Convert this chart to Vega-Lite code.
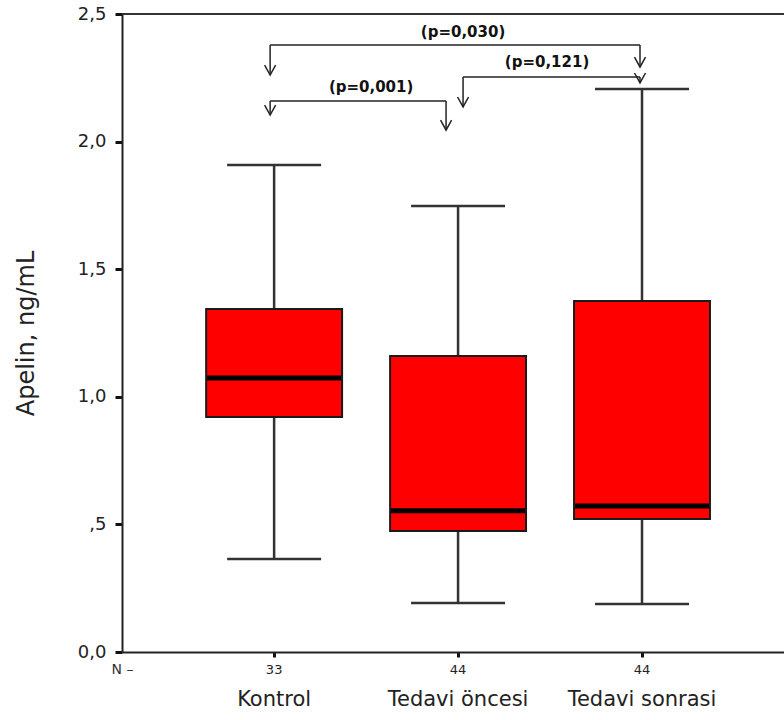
{
  "$schema": "https://vega.github.io/schema/vega-lite/v6.json",
  "width": 662,
  "height": 638,
  "autosize": {"type": "none"},
  "padding": {"left": 122, "top": 14, "right": 0, "bottom": 68},
  "background": "white",
  "config": {
    "view": {"stroke": null},
    "font": "DejaVu Sans",
    "axisY": {
      "labelFontSize": 18, "labelColor": "#222", "labelPadding": 9,
      "tickSize": 7, "tickWidth": 3, "tickColor": "#111", "domainColor": "#222", "domainWidth": 2, "grid": false,
      "titleFontSize": 24, "titleFontWeight": "normal", "titleColor": "#222", "titlePadding": 39
    },
    "axisX": {
      "labelFontSize": 21, "labelColor": "#222", "labelPadding": 31, "labelAngle": 0,
      "tickSize": 5, "tickWidth": 3, "tickColor": "#111", "domainColor": "#222", "domainWidth": 2, "grid": false,
      "titleX": 0, "titleY": 17, "titleAlign": "center", "titleBaseline": "middle",
      "titleFontSize": 14, "titleFontWeight": "normal", "titleColor": "#333"
    }
  },
  "datasets": {
    "groups": [
      {"group": "Kontrol", "n": 33, "lower": 0.364, "q1": 0.921, "median": 1.074, "q3": 1.344, "upper": 1.908},
      {"group": "Tedavi öncesi", "n": 44, "lower": 0.192, "q1": 0.474, "median": 0.553, "q3": 1.160, "upper": 1.748},
      {"group": "Tedavi sonrasi", "n": 44, "lower": 0.188, "q1": 0.521, "median": 0.572, "q3": 1.375, "upper": 2.206}
    ],
    "brackets": [
      {"label": "(p=0,030)", "from": "Kontrol", "to": "Tedavi sonrasi", "top": 2.379, "fromTip": 2.261, "toTip": 2.292, "labelY": 2.429},
      {"label": "(p=0,121)", "from": "Tedavi öncesi", "to": "Tedavi sonrasi", "top": 2.253, "fromTip": 2.136, "toTip": 2.230, "labelY": 2.312},
      {"label": "(p=0,001)", "from": "Kontrol", "to": "Tedavi öncesi", "top": 2.159, "fromTip": 2.104, "toTip": 2.045, "labelY": 2.214}
    ],
    "frame": [{"edge": 2.5}]
  },
  "layer": [
    {
      "data": {"name": "frame"},
      "mark": {"type": "rule", "color": "#333", "strokeWidth": 2},
      "encoding": {
        "y": {
          "field": "edge", "type": "quantitative", "title": "Apelin, ng/mL",
          "scale": {"domain": [0, 2.5], "nice": false, "zero": true},
          "axis": {
            "orient": "left", "title": "Apelin, ng/mL",
            "values": [0, 0.5, 1, 1.5, 2, 2.5],
            "labelExpr": "datum.value == 0 ? '0,0' : datum.value == 0.5 ? ',5' : replace(format(datum.value, '.1f'), '.', ',')"
          }
        }
      }
    },
    {
      "data": {"name": "groups"},
      "mark": {"type": "rule", "color": "#333", "strokeWidth": 2.5},
      "encoding": {
        "x": {
          "field": "group", "type": "nominal", "bandPosition": 0.5, "title": "N –",
          "sort": ["Kontrol", "Tedavi öncesi", "Tedavi sonrasi"],
          "scale": {"type": "band", "domain": ["Kontrol", "Tedavi öncesi", "Tedavi sonrasi"], "paddingInner": 0.261, "paddingOuter": 0.43, "align": 0.532},
          "axis": {"orient": "bottom", "title": "N –"}
        },
        "y": {"field": "lower", "type": "quantitative", "title": "Apelin, ng/mL"},
        "y2": {"field": "upper"}
      }
    },
    {
      "data": {"name": "groups"},
      "mark": {"type": "text", "fontSize": 13, "color": "#222", "baseline": "middle"},
      "encoding": {
        "x": {"field": "group", "type": "nominal", "title": "N –"},
        "y": {"datum": -0.07, "type": "quantitative", "title": "Apelin, ng/mL"},
        "text": {"field": "n"}
      }
    },
    {
      "data": {"name": "groups"},
      "mark": {"type": "tick", "color": "#333", "thickness": 2.5, "size": 94, "opacity": 1},
      "encoding": {
        "x": {"field": "group", "type": "nominal", "title": "N –"},
        "y": {"field": "lower", "type": "quantitative", "title": "Apelin, ng/mL"}
      }
    },
    {
      "data": {"name": "groups"},
      "mark": {"type": "tick", "color": "#333", "thickness": 2.5, "size": 94, "opacity": 1},
      "encoding": {
        "x": {"field": "group", "type": "nominal", "title": "N –"},
        "y": {"field": "upper", "type": "quantitative", "title": "Apelin, ng/mL"}
      }
    },
    {
      "data": {"name": "groups"},
      "mark": {"type": "bar", "fill": "#ff0000", "stroke": "#1a1a1a", "strokeWidth": 2},
      "encoding": {
        "x": {"field": "group", "type": "nominal", "title": "N –"},
        "y": {"field": "q1", "type": "quantitative", "title": "Apelin, ng/mL"},
        "y2": {"field": "q3"}
      }
    },
    {
      "data": {"name": "groups"},
      "mark": {"type": "tick", "color": "#000", "thickness": 5, "size": 134, "opacity": 1},
      "encoding": {
        "x": {"field": "group", "type": "nominal", "title": "N –"},
        "y": {"field": "median", "type": "quantitative", "title": "Apelin, ng/mL"}
      }
    },
    {
      "data": {"name": "brackets"},
      "transform": [{"filter": "datum.label === '(p=0,030)'"}],
      "layer": [
        {
          "mark": {"type": "rule", "color": "#222", "strokeWidth": 1.5, "xOffset": -4, "x2Offset": -2},
          "encoding": {
            "x": {"field": "from", "type": "nominal", "bandPosition": 0.5, "title": "N –"},
            "x2": {"field": "to", "bandPosition": 0.5},
            "y": {"field": "top", "type": "quantitative", "title": "Apelin, ng/mL"}
          }
        },
        {
          "mark": {"type": "rule", "color": "#222", "strokeWidth": 1.5, "xOffset": -4},
          "encoding": {
            "x": {"field": "from", "type": "nominal", "bandPosition": 0.5, "title": "N –"},
            "y": {"field": "top", "type": "quantitative", "title": "Apelin, ng/mL"},
            "y2": {"field": "fromTip"}
          }
        },
        {
          "mark": {"type": "rule", "color": "#222", "strokeWidth": 1.5, "xOffset": -2},
          "encoding": {
            "x": {"field": "to", "type": "nominal", "bandPosition": 0.5, "title": "N –"},
            "y": {"field": "top", "type": "quantitative", "title": "Apelin, ng/mL"},
            "y2": {"field": "toTip"}
          }
        },
        {
          "mark": {"type": "point", "shape": "M-1,-1.8L0,0L1,-1.8", "size": 121, "filled": false, "stroke": "#222", "strokeWidth": 1.5, "opacity": 1, "xOffset": -4},
          "encoding": {
            "x": {"field": "from", "type": "nominal", "title": "N –"},
            "y": {"field": "fromTip", "type": "quantitative", "title": "Apelin, ng/mL"}
          }
        },
        {
          "mark": {"type": "point", "shape": "M-1,-1.8L0,0L1,-1.8", "size": 121, "filled": false, "stroke": "#222", "strokeWidth": 1.5, "opacity": 1, "xOffset": -2},
          "encoding": {
            "x": {"field": "to", "type": "nominal", "title": "N –"},
            "y": {"field": "toTip", "type": "quantitative", "title": "Apelin, ng/mL"}
          }
        },
        {
          "mark": {"type": "text", "font": "DejaVu Sans", "fontWeight": "bold", "fontSize": 15, "dx": 5, "baseline": "middle", "color": "#111"},
          "encoding": {
            "x": {"datum": "Tedavi öncesi", "type": "nominal", "title": "N –"},
            "y": {"field": "labelY", "type": "quantitative", "title": "Apelin, ng/mL"},
            "text": {"field": "label"}
          }
        }
      ]
    },
    {
      "data": {"name": "brackets"},
      "transform": [{"filter": "datum.label === '(p=0,121)'"}],
      "layer": [
        {
          "mark": {"type": "rule", "color": "#222", "strokeWidth": 1.5, "xOffset": 5, "x2Offset": -2},
          "encoding": {
            "x": {"field": "from", "type": "nominal", "bandPosition": 0.5, "title": "N –"},
            "x2": {"field": "to", "bandPosition": 0.5},
            "y": {"field": "top", "type": "quantitative", "title": "Apelin, ng/mL"}
          }
        },
        {
          "mark": {"type": "rule", "color": "#222", "strokeWidth": 1.5, "xOffset": 5},
          "encoding": {
            "x": {"field": "from", "type": "nominal", "bandPosition": 0.5, "title": "N –"},
            "y": {"field": "top", "type": "quantitative", "title": "Apelin, ng/mL"},
            "y2": {"field": "fromTip"}
          }
        },
        {
          "mark": {"type": "rule", "color": "#222", "strokeWidth": 1.5, "xOffset": -2},
          "encoding": {
            "x": {"field": "to", "type": "nominal", "bandPosition": 0.5, "title": "N –"},
            "y": {"field": "top", "type": "quantitative", "title": "Apelin, ng/mL"},
            "y2": {"field": "toTip"}
          }
        },
        {
          "mark": {"type": "point", "shape": "M-1,-1.8L0,0L1,-1.8", "size": 121, "filled": false, "stroke": "#222", "strokeWidth": 1.5, "opacity": 1, "xOffset": 5},
          "encoding": {
            "x": {"field": "from", "type": "nominal", "title": "N –"},
            "y": {"field": "fromTip", "type": "quantitative", "title": "Apelin, ng/mL"}
          }
        },
        {
          "mark": {"type": "point", "shape": "M-1,-1.8L0,0L1,-1.8", "size": 121, "filled": false, "stroke": "#222", "strokeWidth": 1.5, "opacity": 1, "xOffset": -2},
          "encoding": {
            "x": {"field": "to", "type": "nominal", "title": "N –"},
            "y": {"field": "toTip", "type": "quantitative", "title": "Apelin, ng/mL"}
          }
        },
        {
          "mark": {"type": "text", "font": "DejaVu Sans", "fontWeight": "bold", "fontSize": 15, "dx": 89, "baseline": "middle", "color": "#111"},
          "encoding": {
            "x": {"field": "from", "type": "nominal", "title": "N –"},
            "y": {"field": "labelY", "type": "quantitative", "title": "Apelin, ng/mL"},
            "text": {"field": "label"}
          }
        }
      ]
    },
    {
      "data": {"name": "brackets"},
      "transform": [{"filter": "datum.label === '(p=0,001)'"}],
      "layer": [
        {
          "mark": {"type": "rule", "color": "#222", "strokeWidth": 1.5, "xOffset": -4, "x2Offset": -12},
          "encoding": {
            "x": {"field": "from", "type": "nominal", "bandPosition": 0.5, "title": "N –"},
            "x2": {"field": "to", "bandPosition": 0.5},
            "y": {"field": "top", "type": "quantitative", "title": "Apelin, ng/mL"}
          }
        },
        {
          "mark": {"type": "rule", "color": "#222", "strokeWidth": 1.5, "xOffset": -4},
          "encoding": {
            "x": {"field": "from", "type": "nominal", "bandPosition": 0.5, "title": "N –"},
            "y": {"field": "top", "type": "quantitative", "title": "Apelin, ng/mL"},
            "y2": {"field": "fromTip"}
          }
        },
        {
          "mark": {"type": "rule", "color": "#222", "strokeWidth": 1.5, "xOffset": -12},
          "encoding": {
            "x": {"field": "to", "type": "nominal", "bandPosition": 0.5, "title": "N –"},
            "y": {"field": "top", "type": "quantitative", "title": "Apelin, ng/mL"},
            "y2": {"field": "toTip"}
          }
        },
        {
          "mark": {"type": "point", "shape": "M-1,-1.8L0,0L1,-1.8", "size": 121, "filled": false, "stroke": "#222", "strokeWidth": 1.5, "opacity": 1, "xOffset": -4},
          "encoding": {
            "x": {"field": "from", "type": "nominal", "title": "N –"},
            "y": {"field": "fromTip", "type": "quantitative", "title": "Apelin, ng/mL"}
          }
        },
        {
          "mark": {"type": "point", "shape": "M-1,-1.8L0,0L1,-1.8", "size": 121, "filled": false, "stroke": "#222", "strokeWidth": 1.5, "opacity": 1, "xOffset": -12},
          "encoding": {
            "x": {"field": "to", "type": "nominal", "title": "N –"},
            "y": {"field": "toTip", "type": "quantitative", "title": "Apelin, ng/mL"}
          }
        },
        {
          "mark": {"type": "text", "font": "DejaVu Sans", "fontWeight": "bold", "fontSize": 15, "dx": 97, "baseline": "middle", "color": "#111"},
          "encoding": {
            "x": {"field": "from", "type": "nominal", "title": "N –"},
            "y": {"field": "labelY", "type": "quantitative", "title": "Apelin, ng/mL"},
            "text": {"field": "label"}
          }
        }
      ]
    }
  ]
}
